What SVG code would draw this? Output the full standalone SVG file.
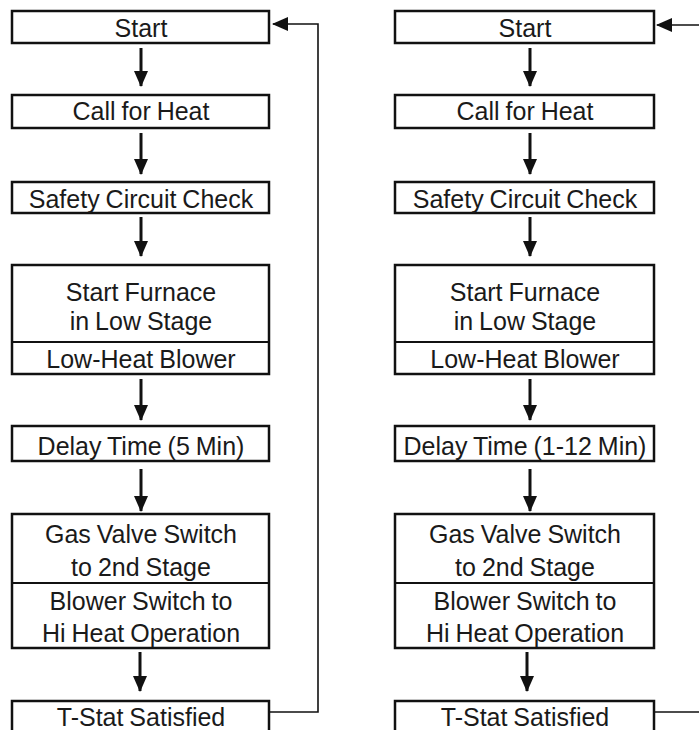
<svg xmlns="http://www.w3.org/2000/svg" width="699" height="730" viewBox="0 0 699 730">
<style>
.box{fill:#fff;stroke:#111;stroke-width:2.5}
.div{stroke:#111;stroke-width:2}
.t{font-family:"Liberation Sans",Arial,sans-serif;font-size:25px;fill:#1a1a1a;text-anchor:middle;word-spacing:-1px}
.arr{stroke:#111;stroke-width:3;fill:none}
.loop{stroke:#111;stroke-width:1.6;fill:none}
</style>
<defs>
<marker id="ah" markerUnits="userSpaceOnUse" markerWidth="16" markerHeight="16" viewBox="0 0 16 16" refX="15" refY="8" orient="auto">
<path d="M0,1 L16,8 L0,15 Z" fill="#111"/>
</marker>
</defs>
<rect width="699" height="730" fill="#fff"/>

<g id="L-start"><rect class="box" x="12" y="11" width="257" height="32"/><text class="t" x="141" y="37">Start</text></g>
<g id="L-call"><rect class="box" x="12" y="95" width="257" height="33"/><text class="t" x="141" y="120">Call for Heat</text></g>
<g id="L-safety"><rect class="box" x="12" y="182" width="257" height="31"/><text class="t" x="141" y="208">Safety Circuit Check</text></g>
<g id="L-furnace"><rect class="box" x="12" y="265" width="257" height="109"/><line class="div" x1="12" y1="342" x2="269" y2="342"/><text class="t" x="141" y="301">Start Furnace</text><text class="t" x="141" y="330">in Low Stage</text><text class="t" x="141" y="368">Low-Heat Blower</text></g>
<g id="L-delay"><rect class="box" x="12" y="426" width="257" height="35"/><text class="t" x="141" y="455">Delay Time (5 Min)</text></g>
<g id="L-gas"><rect class="box" x="12" y="514" width="257" height="134"/><line class="div" x1="12" y1="583" x2="269" y2="583"/><text class="t" x="141" y="543">Gas Valve Switch</text><text class="t" x="141" y="576">to 2nd Stage</text><text class="t" x="141" y="610">Blower Switch to</text><text class="t" x="141" y="642">Hi Heat Operation</text></g>
<g id="L-tstat"><rect class="box" x="12" y="701" width="257" height="40" stroke-width="3.5"/><text class="t" x="141" y="726">T-Stat Satisfied</text></g>

<g id="R-start"><rect class="box" x="395" y="11" width="259" height="32"/><text class="t" x="525" y="37">Start</text></g>
<g id="R-call"><rect class="box" x="395" y="95" width="259" height="33"/><text class="t" x="525" y="120">Call for Heat</text></g>
<g id="R-safety"><rect class="box" x="395" y="182" width="259" height="31"/><text class="t" x="525" y="208">Safety Circuit Check</text></g>
<g id="R-furnace"><rect class="box" x="395" y="265" width="259" height="109"/><line class="div" x1="395" y1="342" x2="654" y2="342"/><text class="t" x="525" y="301">Start Furnace</text><text class="t" x="525" y="330">in Low Stage</text><text class="t" x="525" y="368">Low-Heat Blower</text></g>
<g id="R-delay"><rect class="box" x="395" y="426" width="259" height="35"/><text class="t" x="525" y="455">Delay Time (1-12 Min)</text></g>
<g id="R-gas"><rect class="box" x="395" y="514" width="259" height="134"/><line class="div" x1="395" y1="583" x2="654" y2="583"/><text class="t" x="525" y="543">Gas Valve Switch</text><text class="t" x="525" y="576">to 2nd Stage</text><text class="t" x="525" y="610">Blower Switch to</text><text class="t" x="525" y="642">Hi Heat Operation</text></g>
<g id="R-tstat"><rect class="box" x="395" y="701" width="259" height="40" stroke-width="3.5"/><text class="t" x="525" y="726">T-Stat Satisfied</text></g>

<g id="connectors">
<line class="arr" x1="141" y1="48" x2="141" y2="86" marker-end="url(#ah)"/>
<line class="arr" x1="141" y1="133" x2="141" y2="174" marker-end="url(#ah)"/>
<line class="arr" x1="141" y1="217" x2="141" y2="256" marker-end="url(#ah)"/>
<line class="arr" x1="141" y1="379" x2="141" y2="420" marker-end="url(#ah)"/>
<line class="arr" x1="141" y1="469" x2="141" y2="511" marker-end="url(#ah)"/>
<line class="arr" x1="140" y1="652" x2="140" y2="691" marker-end="url(#ah)"/>
<line class="arr" x1="530" y1="48" x2="530" y2="86" marker-end="url(#ah)"/>
<line class="arr" x1="530" y1="133" x2="530" y2="174" marker-end="url(#ah)"/>
<line class="arr" x1="530" y1="217" x2="530" y2="256" marker-end="url(#ah)"/>
<line class="arr" x1="530" y1="379" x2="530" y2="420" marker-end="url(#ah)"/>
<line class="arr" x1="530" y1="469" x2="530" y2="511" marker-end="url(#ah)"/>
<line class="arr" x1="527" y1="652" x2="527" y2="691" marker-end="url(#ah)"/>
<polyline class="loop" points="270,712 318,712 318,24 273,24" marker-end="url(#ah)"/>
<line class="loop" x1="655" y1="712" x2="699" y2="712"/>
<line class="loop" x1="699" y1="25" x2="657" y2="25" marker-end="url(#ah)"/>
</g>
</svg>
